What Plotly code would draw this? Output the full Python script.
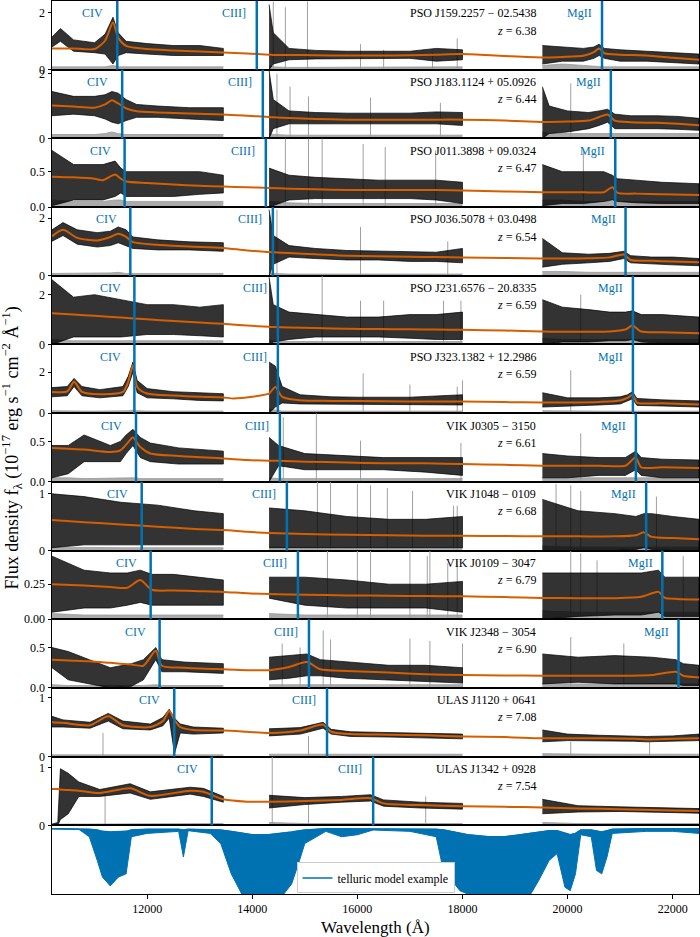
import plotly.graph_objects as go
from plotly.subplots import make_subplots

# rest wavelengths of the marked lines (Angstrom)
line_names = ["CIV", "CIII]", "MgII"]
line_rest = [1549.06, 1908.73, 2798.75]

names = ["PSO J159.2257 − 02.5438", "PSO J183.1124 + 05.0926", "PSO J011.3898 + 09.0324",
         "PSO J036.5078 + 03.0498", "PSO J231.6576 − 20.8335", "PSO J323.1382 + 12.2986",
         "VIK J0305 − 3150", "VIK J1048 − 0109", "VIK J0109 − 3047",
         "VIK J2348 − 3054", "ULAS J1120 + 0641", "ULAS J1342 + 0928"]
redshifts = [6.38, 6.44, 6.47, 6.54, 6.59, 6.59, 6.61, 6.68, 6.79, 6.90, 7.08, 7.54]
ymax = [2.42, 2.125, 0.97, 2.39, 2.76, 3.36, 0.85, 1.21, 0.49, 0.85, 1.16, 1.19]
yticks = [[0, 2], [0, 2], [0.0, 0.5], [0, 2], [0, 2], [0, 2], [0.0, 0.5], [0, 1],
          [0.0, 0.25], [0.0, 0.5], [0, 1], [0, 1]]
ytick_text = [["0", "2"], ["0", "2"], ["0.0", "0.5"], ["0", "2"], ["0", "2"], ["0", "2"],
              ["0.0", "0.5"], ["0", "1"], ["0.00", "0.25"], ["0.0", "0.5"], ["0", "1"], ["0", "1"]]
xticks = [12000, 14000, 16000, 18000, 20000, 22000]
xtick_text = ["12000", "14000", "16000", "18000", "20000", "22000"]

N = None
# wavelength nodes, model fit, upper / lower edge of the noisy spectrum, error level
wl_1 = [10190, 10350, 10600, 11000, 11200, 11350, 11450, 11600, 12000, 12500, 13000, 13450, 13900,
        14320, 14400, 14700, 15200, 15800, 16400, 17000, 17500, 18000, 18800,
        19520, 19900, 20300, 20500, 20600, 20700, 21000, 21500, 22000, 22500]
fit_1 = [0.75, 0.75, 0.75, 0.73, 1.02, 1.66, 1.13, 0.84, 0.73, 0.68, 0.64, 0.61, 0.57,
         0.53, 0.52, 0.52, 0.51, 0.50, 0.50, 0.51, 0.53, 0.55, 0.48,
         0.43, 0.45, 0.49, 0.62, 0.75, 0.58, 0.53, 0.50, 0.42, 0.35]
hi_1 = [1.15, 1.45, 1.05, 0.95, 1.25, 1.85, 1.3, 1.0, 0.92, 0.85, 0.85, 0.75, N,
        2.3, 1.3, 0.75, 0.68, 0.65, 0.65, 0.65, 0.75, 0.7, N,
        0.85, 0.8, 0.75, 0.8, 0.9, 0.75, 0.7, 0.65, 0.6, 0.55]
lo_1 = [0.8, 1.0, 0.65, 0.6, 0.55, 0.2, 0.5, 0.6, 0.55, 0.5, 0.5, 0.5, N,
        0.0, 0.2, 0.35, 0.38, 0.4, 0.4, 0.4, 0.3, 0.35, N,
        0.2, 0.3, 0.3, 0.4, 0.5, 0.4, 0.3, 0.3, 0.25, 0.2]
err_1 = [0.1, 0.1, 0.1, 0.1, 0.1, 0.15, 0.1, 0.1, 0.1, 0.1, 0.1, 0.1, N,
         0.15, 0.1, 0.08, 0.08, 0.08, 0.08, 0.08, 0.1, 0.1, N,
         0.15, 0.2, 0.15, 0.12, 0.12, 0.1, 0.1, 0.1, 0.1, 0.1]

wl_2 = [10190, 10600, 11000, 11200, 11330, 11450, 11600, 11800, 12200, 12800, 13450, 13900,
        14320, 14400, 14700, 15200, 15800, 16400, 17000, 17500, 18000, 18800,
        19520, 19650, 20000, 20400, 20600, 20760, 20900, 21200, 21700, 22100, 22500]
fit_2 = [1.02, 0.99, 0.95, 1.05, 1.18, 1.08, 0.93, 0.84, 0.80, 0.77, 0.74, 0.70,
         0.66, 0.65, 0.63, 0.60, 0.58, 0.58, 0.58, 0.58, 0.58, 0.55,
         0.51, 0.51, 0.52, 0.55, 0.66, 0.74, 0.55, 0.50, 0.48, 0.45, 0.41]
hi_2 = [1.45, 1.3, 1.3, 1.35, 1.45, 1.4, 1.2, 1.05, 1.0, 0.95, 0.95, N,
        2.1, 1.2, 0.85, 0.8, 0.78, 0.78, 0.78, 0.82, 0.8, N,
        1.6, 1.0, 0.85, 0.8, 0.85, 0.9, 0.75, 0.7, 0.7, 0.68, 0.62]
lo_2 = [0.7, 0.75, 0.7, 0.6, 0.5, 0.45, 0.55, 0.65, 0.65, 0.6, 0.55, N,
        0.0, 0.3, 0.45, 0.45, 0.45, 0.45, 0.45, 0.45, 0.4, N,
        0.0, 0.15, 0.2, 0.3, 0.4, 0.5, 0.3, 0.3, 0.3, 0.28, 0.25]
err_2 = [0.12, 0.12, 0.12, 0.15, 0.2, 0.15, 0.12, 0.12, 0.12, 0.12, 0.12, N,
         0.15, 0.12, 0.1, 0.1, 0.1, 0.1, 0.1, 0.1, 0.1, N,
         0.2, 0.15, 0.15, 0.15, 0.15, 0.15, 0.15, 0.15, 0.15, 0.15, 0.15]

wl_3 = [10190, 10600, 11000, 11160, 11390, 11500, 11600, 12000, 12500, 13000, 13450, 13900,
        14320, 14700, 15200, 15800, 16400, 17000, 17500, 18000, 18800,
        19520, 19900, 20300, 20690, 20850, 20950, 21300, 21800, 22500]
fit_3 = [0.43, 0.42, 0.40, 0.38, 0.46, 0.40, 0.36, 0.34, 0.32, 0.30, 0.29, 0.28,
         0.27, 0.26, 0.25, 0.24, 0.24, 0.24, 0.24, 0.235, 0.22,
         0.21, 0.21, 0.21, 0.21, 0.28, 0.20, 0.19, 0.18, 0.17]
hi_3 = [0.8, 0.6, 0.6, 0.6, 0.65, 0.55, 0.5, 0.5, 0.5, 0.5, 0.45, N,
        0.55, 0.45, 0.42, 0.4, 0.38, 0.38, 0.38, 0.35, N,
        0.6, 0.5, 0.5, 0.5, 0.45, 0.4, 0.38, 0.35, 0.33]
lo_3 = [0.02, 0.1, 0.1, 0.1, 0.15, 0.2, 0.15, 0.15, 0.15, 0.18, 0.2, N,
        0.0, 0.1, 0.12, 0.12, 0.12, 0.12, 0.1, 0.05, N,
        0.02, 0.05, 0.05, 0.08, 0.1, 0.08, 0.06, 0.05, 0.05]
err_3 = [0.1, 0.08, 0.08, 0.08, 0.1, 0.1, 0.08, 0.08, 0.08, 0.08, 0.08, N,
         0.08, 0.06, 0.05, 0.05, 0.05, 0.05, 0.05, 0.05, N,
         0.1, 0.1, 0.08, 0.08, 0.08, 0.08, 0.08, 0.08, 0.08]

wl_4 = [10190, 10400, 10670, 11050, 11300, 11450, 11600, 11730, 12200, 12800, 13450, 13900,
        14320, 14400, 14700, 15200, 15800, 16400, 17000, 17500, 18000, 18800,
        19520, 19900, 20400, 20800, 21070, 21200, 21600, 22000, 22500]
fit_4 = [1.37, 1.60, 1.32, 1.23, 1.35, 1.46, 1.35, 1.17, 1.08, 1.02, 0.97, 0.88,
         0.83, 0.82, 0.79, 0.75, 0.70, 0.68, 0.66, 0.65, 0.64, 0.62,
         0.60, 0.60, 0.61, 0.64, 0.74, 0.55, 0.52, 0.50, 0.47]
hi_4 = [1.6, 1.85, 1.6, 1.5, 1.55, 1.7, 1.6, 1.35, 1.25, 1.18, 1.15, N,
        2.3, 1.4, 1.05, 0.95, 0.88, 0.85, 0.82, 0.82, 0.95, N,
        1.3, 0.8, 0.75, 0.78, 0.85, 0.7, 0.65, 0.65, 0.6]
lo_4 = [1.2, 1.4, 1.1, 1.0, 1.05, 1.15, 1.05, 0.95, 0.9, 0.9, 0.85, N,
        0.0, 0.4, 0.65, 0.6, 0.55, 0.55, 0.5, 0.5, 0.45, N,
        0.3, 0.4, 0.45, 0.5, 0.6, 0.45, 0.42, 0.38, 0.35]
err_4 = [0.08, 0.08, 0.08, 0.08, 0.1, 0.12, 0.08, 0.08, 0.08, 0.08, 0.08, N,
         0.1, 0.08, 0.06, 0.06, 0.06, 0.06, 0.06, 0.06, 0.06, N,
         0.15, 0.15, 0.12, 0.12, 0.12, 0.12, 0.12, 0.12, 0.12]

wl_5 = [10190, 10600, 11000, 11500, 12000, 12500, 13000, 13450, 13900,
        14320, 14400, 14700, 15200, 15800, 16400, 17000, 17500, 18000, 18800,
        19520, 19900, 20400, 20800, 21100, 21235, 21400, 21800, 22500]
fit_5 = [1.25, 1.20, 1.15, 1.08, 1.01, 0.94, 0.88, 0.83, 0.76,
         0.71, 0.70, 0.68, 0.66, 0.63, 0.62, 0.61, 0.60, 0.59, 0.56,
         0.52, 0.51, 0.51, 0.52, 0.60, 0.76, 0.52, 0.49, 0.45]
hi_5 = [2.6, 1.9, 2.0, 1.8, 1.6, 1.6, 1.5, 1.6, N,
        2.7, 1.6, 1.3, 1.2, 1.1, 1.1, 1.2, 1.2, 1.3, N,
        1.8, 1.5, 1.4, 1.3, 1.3, 1.35, 1.2, 1.2, 1.1]
lo_5 = [0.0, 0.3, 0.3, 0.3, 0.4, 0.4, 0.35, 0.3, N,
        0.0, 0.1, 0.2, 0.3, 0.3, 0.3, 0.25, 0.2, 0.2, N,
        0.0, 0.1, 0.1, 0.15, 0.15, 0.2, 0.1, 0.05, 0.05]
err_5 = [0.2, 0.15, 0.15, 0.15, 0.15, 0.15, 0.15, 0.15, N,
         0.2, 0.15, 0.12, 0.12, 0.12, 0.12, 0.12, 0.12, 0.12, N,
         0.25, 0.2, 0.2, 0.2, 0.2, 0.2, 0.2, 0.2, 0.2]

wl_6 = [10190, 10480, 10610, 10760, 11100, 11540, 11640, 11730, 11810, 12000, 12500, 13000, 13450,
        13640, 14000, 14290,
        14320, 14440, 14570, 14910, 15500, 16000, 17000, 18000, 18800,
        19520, 20000, 20600, 21000, 21140, 21235, 21320, 21800, 22500]
fit_6 = [1.04, 1.06, 1.53, 1.04, 0.93, 1.04, 1.53, 2.34, 1.28, 0.96, 0.86, 0.80, 0.77,
         0.72, 0.80, 0.93,
         0.95, 1.28, 0.80, 0.63, 0.60, 0.59, 0.57, 0.57, 0.54,
         0.52, 0.52, 0.55, 0.62, 0.75, 0.90, 0.52, 0.48, 0.42]
hi_6 = [1.25, 1.3, 1.7, 1.3, 1.15, 1.3, 1.8, 2.5, 1.6, 1.2, 1.05, 1.0, 0.95,
        N, N, N,
        2.5, 2.3, 1.3, 0.9, 0.8, 0.78, 0.78, 0.9, N,
        1.0, 0.75, 0.75, 0.8, 0.9, 1.05, 0.72, 0.65, 0.6]
lo_6 = [0.8, 0.85, 1.3, 0.85, 0.75, 0.85, 1.3, 2.0, 1.0, 0.75, 0.7, 0.62, 0.6,
        N, N, N,
        0.0, 0.3, 0.5, 0.45, 0.45, 0.45, 0.42, 0.4, N,
        0.3, 0.35, 0.4, 0.45, 0.6, 0.7, 0.38, 0.35, 0.3]
err_6 = [0.12, 0.1, 0.1, 0.1, 0.1, 0.1, 0.12, 0.15, 0.12, 0.1, 0.1, 0.1, 0.1,
         N, N, N,
         0.2, 0.15, 0.1, 0.1, 0.1, 0.1, 0.1, 0.1, N,
         0.12, 0.1, 0.1, 0.1, 0.1, 0.1, 0.1, 0.1, 0.1]

wl_7 = [10190, 10500, 10800, 11300, 11490, 11600, 11730, 11870, 12060, 12600, 13450, 13900,
        14320, 14500, 15000, 15800, 16500, 17300, 18000, 18800,
        19520, 20000, 20600, 21100, 21295, 21400, 21800, 22500]
fit_7 = [0.42, 0.41, 0.40, 0.37, 0.39, 0.46, 0.55, 0.43, 0.35, 0.32, 0.29, 0.27,
         0.26, 0.26, 0.25, 0.24, 0.23, 0.23, 0.22, 0.21,
         0.20, 0.20, 0.20, 0.20, 0.30, 0.18, 0.18, 0.17]
hi_7 = [0.45, 0.45, 0.58, 0.45, 0.5, 0.58, 0.65, 0.55, 0.48, 0.42, 0.38, N,
        0.55, 0.45, 0.35, 0.32, 0.3, 0.3, 0.3, N,
        0.35, 0.32, 0.3, 0.3, 0.38, 0.3, 0.28, 0.27]
lo_7 = [0.05, 0.1, 0.25, 0.25, 0.25, 0.35, 0.45, 0.3, 0.25, 0.22, 0.22, N,
        0.0, 0.2, 0.15, 0.15, 0.15, 0.12, 0.08, N,
        0.05, 0.05, 0.08, 0.08, 0.15, 0.08, 0.05, 0.05]
err_7 = [0.05, 0.05, 0.04, 0.05, 0.05, 0.05, 0.05, 0.04, 0.04, 0.04, 0.04, N,
         0.05, 0.04, 0.04, 0.04, 0.04, 0.04, 0.04, N,
         0.05, 0.05, 0.05, 0.05, 0.05, 0.05, 0.05, 0.05]

wl_8 = [10190, 10800, 11500, 12200, 12900, 13450, 13900,
        14320, 15000, 15800, 16600, 17300, 18000, 18800,
        19520, 20200, 20900, 21300, 21450, 21600, 22000, 22500]
fit_8 = [0.54, 0.50, 0.46, 0.42, 0.38, 0.36, 0.33,
         0.31, 0.29, 0.28, 0.27, 0.26, 0.26, 0.255,
         0.25, 0.25, 0.25, 0.27, 0.32, 0.24, 0.22, 0.20]
hi_8 = [1.0, 0.95, 0.85, 0.8, 0.7, 0.65, N,
        0.75, 0.7, 0.6, 0.55, 0.55, 0.6, N,
        0.9, 0.7, 0.65, 0.6, 0.65, 0.65, 0.6, 0.55]
lo_8 = [0.05, 0.1, 0.1, 0.1, 0.1, 0.1, N,
        0.05, 0.05, 0.05, 0.05, 0.05, 0.05, N,
        0.0, 0.0, 0.0, 0.02, 0.05, 0.02, 0.0, 0.0]
err_8 = [0.06, 0.05, 0.05, 0.05, 0.05, 0.05, N,
         0.06, 0.05, 0.05, 0.05, 0.05, 0.05, N,
         0.08, 0.06, 0.06, 0.06, 0.06, 0.06, 0.06, 0.06]

wl_9 = [10190, 10800, 11300, 11620, 11870, 12090, 12500, 13000, 13450, 13900,
        14320, 15000, 15800, 16600, 17300, 18000, 18800,
        19520, 20200, 20900, 21400, 21730, 21850, 22100, 22500]
fit_9 = [0.25, 0.24, 0.23, 0.224, 0.28, 0.21, 0.205, 0.20, 0.195, 0.185,
         0.18, 0.175, 0.17, 0.167, 0.165, 0.164, 0.158,
         0.152, 0.15, 0.15, 0.16, 0.195, 0.152, 0.145, 0.14]
hi_9 = [0.45, 0.35, 0.33, 0.33, 0.35, 0.32, 0.32, 0.3, 0.28, N,
        0.3, 0.3, 0.28, 0.25, 0.25, 0.27, N,
        0.33, 0.33, 0.33, 0.33, 0.35, 0.3, 0.3, 0.3]
lo_9 = [0.05, 0.08, 0.08, 0.1, 0.12, 0.1, 0.1, 0.1, 0.1, N,
        0.15, 0.1, 0.08, 0.08, 0.08, 0.05, N,
        0.0, 0.02, 0.03, 0.03, 0.05, 0.02, 0.02, 0.02]
err_9 = [0.04, 0.03, 0.03, 0.03, 0.03, 0.03, 0.03, 0.03, 0.03, N,
         0.04, 0.03, 0.03, 0.03, 0.03, 0.03, N,
         0.06, 0.05, 0.05, 0.05, 0.05, 0.05, 0.05, 0.05]

wl_10 = [10190, 10500, 10900, 11300, 11700, 11930, 12165, 12280, 12700, 13450, 13900,
         14320, 14700, 15040, 15295, 15800, 16600, 17300, 18000, 18800,
         19520, 20200, 20900, 21600, 22060, 22200, 22500]
fit_10 = [0.35, 0.34, 0.33, 0.31, 0.29, 0.275, 0.46, 0.275, 0.25, 0.23, 0.22,
          0.22, 0.26, 0.32, 0.23, 0.21, 0.19, 0.17, 0.16, 0.155,
          0.15, 0.15, 0.15, 0.16, 0.20, 0.15, 0.13]
hi_10 = [0.5, 0.45, 0.35, 0.25, 0.3, 0.35, 0.5, 0.35, 0.32, 0.3, N,
         0.38, 0.4, 0.42, 0.35, 0.32, 0.28, 0.28, 0.25, N,
         0.42, 0.38, 0.4, 0.38, 0.35, 0.3, 0.28]
lo_10 = [0.25, 0.1, 0.05, 0.0, 0.02, 0.1, 0.35, 0.2, 0.2, 0.18, N,
         0.1, 0.12, 0.15, 0.15, 0.12, 0.1, 0.08, 0.06, N,
         0.05, 0.07, 0.05, 0.05, 0.05, 0.03, 0.03]
err_10 = [0.04, 0.03, 0.03, 0.03, 0.03, 0.03, 0.04, 0.03, 0.03, 0.03, N,
          0.04, 0.04, 0.04, 0.04, 0.04, 0.04, 0.04, 0.04, N,
          0.05, 0.05, 0.05, 0.05, 0.05, 0.05, 0.05]

wl_11 = [10190, 10400, 10914, 11260, 11540, 12060, 12300, 12420, 12520, 12630, 12880, 13450, 13900,
         14320, 14914, 15350, 15500, 15870, 16600, 17300, 18000, 18800,
         19520, 20000, 20600, 21257, 21500, 22000, 22500]
fit_11 = [0.58, 0.57, 0.53, 0.68, 0.53, 0.50, 0.60, 0.77, 0.62, 0.50, 0.45, 0.44, 0.42,
          0.40, 0.44, 0.54, 0.42, 0.38, 0.37, 0.36, 0.34, 0.33,
          0.31, 0.31, 0.31, 0.30, 0.29, 0.30, 0.31]
hi_11 = [0.68, 0.62, 0.58, 0.73, 0.6, 0.55, 0.66, 0.8, 0.65, 0.55, 0.5, 0.48, N,
         0.47, 0.49, 0.58, 0.46, 0.42, 0.41, 0.4, 0.38, N,
         0.45, 0.38, 0.36, 0.35, 0.34, 0.35, 0.38]
lo_11 = [0.5, 0.5, 0.48, 0.6, 0.47, 0.45, 0.52, 0.65, 0.05, 0.4, 0.38, 0.4, N,
         0.35, 0.38, 0.48, 0.38, 0.34, 0.33, 0.32, 0.3, N,
         0.25, 0.27, 0.27, 0.26, 0.25, 0.26, 0.27]
err_11 = [0.03, 0.03, 0.03, 0.03, 0.03, 0.03, 0.03, 0.03, 0.03, 0.03, 0.03, 0.03, N,
          0.04, 0.04, 0.04, 0.04, 0.04, 0.04, 0.04, 0.04, N,
          0.05, 0.04, 0.04, 0.04, 0.04, 0.04, 0.04]

wl_12 = [10190, 10300, 10350, 10500, 10700, 11100, 11676, 12060, 12820, 13070, 13450, 13900,
         14320, 15000, 15700, 16250, 16500, 17200, 18000, 18800,
         19520, 20200, 21000, 21800, 22500]
fit_12 = [0.63, 0.63, 0.62, 0.61, 0.60, 0.56, 0.64, 0.51, 0.60, 0.58, 0.45, 0.41,
          0.41, 0.42, 0.44, 0.47, 0.38, 0.35, 0.33, 0.32,
          0.31, 0.29, 0.28, 0.26, 0.25]
hi_12 = [0.02, 0.05, 0.98, 0.9, 0.75, 0.62, 0.72, 0.58, 0.66, 0.64, 0.5, N,
         0.52, 0.48, 0.5, 0.53, 0.44, 0.4, 0.38, N,
         0.45, 0.34, 0.32, 0.3, 0.29]
lo_12 = [0.0, 0.0, 0.1, 0.2, 0.5, 0.5, 0.56, 0.45, 0.54, 0.5, 0.4, N,
         0.3, 0.36, 0.4, 0.42, 0.33, 0.3, 0.28, N,
         0.2, 0.23, 0.24, 0.22, 0.21]
err_12 = [0.02, 0.02, 0.03, 0.03, 0.03, 0.03, 0.03, 0.03, 0.03, 0.03, 0.03, N,
          0.05, 0.03, 0.03, 0.03, 0.03, 0.03, 0.03, N,
          0.05, 0.03, 0.03, 0.03, 0.03]

# strong sky-line residuals in the error spectra: wavelength and height
sky_wl_1 = [14400, 14630, 15050, 16060, 16500, 17430, 17900]
sky_h_1 = [2.4, 2.2, 2.4, 0.9, 0.7, 0.6, 1.1]
sky_wl_2 = [14470, 14720, 15070, 16250, 17580, 20060]
sky_h_2 = [2.0, 1.6, 1.3, 1.26, 1.1, 1.7]
sky_wl_3 = [14630, 15070, 15330, 16110, 16530, 17490, 20300]
sky_h_3 = [0.97, 0.97, 0.97, 0.89, 0.85, 0.8, 0.8]
sky_wl_4 = [14470, 16060, 17720]
sky_h_4 = [2.3, 1.7, 1.2]
sky_wl_5 = [15330, 16060, 16500, 17640, 17970, 20250]
sky_h_5 = [2.76, 1.76, 1.76, 1.76, 1.76, 2.0]
sky_wl_6 = [16110, 17000, 17900, 18000, 20060]
sky_h_6 = [1.95, 1.4, 1.3, 1.6, 2.1]
sky_wl_7 = [14590, 15220, 16060, 17970, 20250]
sky_h_7 = [0.8, 0.85, 0.51, 0.48, 0.6]
sky_wl_8 = [14670, 15240, 15490, 16000, 16250, 16570, 17050, 17830, 17900, 19780, 20060, 20250, 21690]
sky_h_8 = [1.21, 1.21, 1.21, 1.17, 1.15, 1.1, 1.05, 0.79, 0.79, 1.17, 1.15, 1.05, 0.95]
sky_wl_9 = [15430, 16000, 16250, 17000, 17330, 17380, 17720, 17900, 20060, 20250, 20560, 22200]
sky_h_9 = [0.49, 0.49, 0.49, 0.49, 0.45, 0.49, 0.4, 0.42, 0.49, 0.47, 0.42, 0.45]
sky_wl_10 = [14570, 14910, 15350, 15490, 17000, 17380, 18000, 20060, 21070]
sky_h_10 = [0.55, 0.5, 0.71, 0.6, 0.61, 0.58, 0.55, 0.63, 0.55]
sky_wl_11 = [11160, 15070, 20060, 21560]
sky_h_11 = [0.4, 0.35, 0.25, 0.25]
sky_wl_12 = [11200, 14380, 15070, 17300]
sky_h_12 = [0.6, 1.19, 0.45, 0.5]

# telluric transmission: upper and lower edge of the dense absorption lines
tell_wl = [10190, 10700, 10900, 11050, 11150, 11300, 11450, 11600, 11700, 12000, 12600, 12690, 12780,
           13200, 13400, 13600, 13800, 14000, 14300, 14600, 14750, 14900, 15000, 15400, 15700, 16000,
           16300, 17000, 17500, 17650, 17800, 17950, 18100, 18500, 18800, 19000, 19300, 19450, 19650,
           19800, 19950, 20050, 20150, 20250, 20450, 20550, 20650, 20750, 20850, 21500, 22000, 22500]
tell_hi = [0.97, 0.97, 0.96, 0.95, 0.93, 0.92, 0.92, 0.93, 0.95, 0.96, 0.96, 0.95, 0.96,
           0.96, 0.95, 0.93, 0.9, 0.88, 0.88, 0.9, 0.92, 0.94, 0.95, 0.97, 0.97, 0.97,
           0.97, 0.97, 0.96, 0.95, 0.93, 0.9, 0.88, 0.85, 0.85, 0.87, 0.9, 0.92, 0.94,
           0.94, 0.9, 0.88, 0.9, 0.95, 0.95, 0.93, 0.92, 0.94, 0.96, 0.97, 0.97, 0.97]
tell_lo = [0.97, 0.96, 0.85, 0.5, 0.25, 0.12, 0.25, 0.3, 0.85, 0.9, 0.93, 0.55, 0.94,
           0.9, 0.75, 0.3, 0.0, 0.0, 0.0, 0.0, 0.15, 0.5, 0.75, 0.93, 0.85, 0.88,
           0.95, 0.93, 0.85, 0.3, 0.2, 0.05, 0.0, 0.0, 0.0, 0.0, 0.0, 0.2, 0.5,
           0.6, 0.1, 0.05, 0.3, 0.88, 0.85, 0.35, 0.3, 0.55, 0.9, 0.93, 0.93, 0.9]

wl_all = [wl_1, wl_2, wl_3, wl_4, wl_5, wl_6, wl_7, wl_8, wl_9, wl_10, wl_11, wl_12]
fit_all = [fit_1, fit_2, fit_3, fit_4, fit_5, fit_6, fit_7, fit_8, fit_9, fit_10, fit_11, fit_12]
hi_all = [hi_1, hi_2, hi_3, hi_4, hi_5, hi_6, hi_7, hi_8, hi_9, hi_10, hi_11, hi_12]
lo_all = [lo_1, lo_2, lo_3, lo_4, lo_5, lo_6, lo_7, lo_8, lo_9, lo_10, lo_11, lo_12]
err_all = [err_1, err_2, err_3, err_4, err_5, err_6, err_7, err_8, err_9, err_10, err_11, err_12]
sky_wl_all = [sky_wl_1, sky_wl_2, sky_wl_3, sky_wl_4, sky_wl_5, sky_wl_6,
              sky_wl_7, sky_wl_8, sky_wl_9, sky_wl_10, sky_wl_11, sky_wl_12]
sky_h_all = [sky_h_1, sky_h_2, sky_h_3, sky_h_4, sky_h_5, sky_h_6,
             sky_h_7, sky_h_8, sky_h_9, sky_h_10, sky_h_11, sky_h_12]

BLUE = "#0072B2"
ORANGE = "#D55E00"
FONT = "Liberation Serif"
XMIN, XMAX = 10190, 22500

fig = make_subplots(rows=13, cols=1, shared_xaxes=True, vertical_spacing=0)


def bands(wl, hi, lo, err):
    # split the nodes into the contiguous observed wavelength ranges
    out, cur = [], []
    for w, h, l, e in zip(wl, hi, lo, err):
        if h is None:
            if cur:
                out.append(cur)
            cur = []
        else:
            cur.append((w, h, l, e))
    if cur:
        out.append(cur)
    return out


for i in range(12):
    row = i + 1
    # grey sky-line spikes
    sx, sy = [], []
    for w, h in zip(sky_wl_all[i], sky_h_all[i]):
        sx += [w, w, None]
        sy += [0, h, None]
    fig.add_trace(go.Scatter(x=sx, y=sy, mode="lines", line=dict(color="#a0a0a0", width=1),
                             showlegend=False, hoverinfo="skip"), row=row, col=1)
    for b in bands(wl_all[i], hi_all[i], lo_all[i], err_all[i]):
        bw = [p[0] for p in b]
        fig.add_trace(go.Scatter(x=bw, y=[p[3] for p in b], mode="lines", fill="tozeroy",
                                 fillcolor="rgba(150,150,150,0.8)", line=dict(color="#999999", width=0.8),
                                 showlegend=False, hoverinfo="skip"), row=row, col=1)
        fig.add_trace(go.Scatter(x=bw + bw[::-1], y=[p[1] for p in b] + [p[2] for p in b][::-1],
                                 mode="lines", fill="toself", fillcolor="rgba(0,0,0,0.8)",
                                 line=dict(color="black", width=0.7), showlegend=False,
                                 hoverinfo="skip"), row=row, col=1)
    fig.add_trace(go.Scatter(x=wl_all[i], y=fit_all[i], mode="lines",
                             line=dict(color=ORANGE, width=2, shape="spline", smoothing=0.7),
                             showlegend=False), row=row, col=1)

    ax = "" if row == 1 else str(row)
    for lname, lrest in zip(line_names, line_rest):
        lam = lrest * (1 + redshifts[i])
        if lam > XMAX:
            continue
        fig.add_shape(type="line", x0=lam, x1=lam, y0=0, y1=1, xref="x" + ax,
                      yref="y" + ax + " domain", line=dict(color=BLUE, width=2.5))
        fig.add_annotation(x=lam - 700, y=0.82, xref="x" + ax, yref="y" + ax + " domain",
                           text=lname, showarrow=False, xanchor="left", yanchor="middle",
                           font=dict(family=FONT, size=12, color=BLUE))
    fig.add_annotation(x=19430, y=0.82, xref="x" + ax, yref="y" + ax + " domain",
                       text=names[i], showarrow=False, xanchor="right", yanchor="middle",
                       font=dict(family=FONT, size=12, color="black"))
    fig.add_annotation(x=19430, y=0.57, xref="x" + ax, yref="y" + ax + " domain",
                       text="<i>z</i> = %.2f" % redshifts[i], showarrow=False, xanchor="right",
                       yanchor="middle", font=dict(family=FONT, size=12, color="black"))
    fig.update_yaxes(range=[0, ymax[i]], tickvals=yticks[i], ticktext=ytick_text[i], row=row, col=1)

# telluric panel
fig.add_trace(go.Scatter(x=tell_wl + tell_wl[::-1], y=tell_hi + tell_lo[::-1], mode="lines",
                         fill="toself", fillcolor=BLUE, line=dict(color=BLUE, width=1),
                         showlegend=False, hoverinfo="skip"), row=13, col=1)
fig.add_trace(go.Scatter(x=tell_wl, y=tell_hi, mode="lines", line=dict(color=BLUE, width=1.5),
                         name="telluric model example"), row=13, col=1)

fig.update_yaxes(showline=True, mirror=True, linecolor="black", linewidth=1, showgrid=False,
                 zeroline=False, ticks="outside", ticklen=3.5, tickcolor="black", automargin=False,
                 tickfont=dict(family=FONT, size=12, color="black"))
fig.update_yaxes(range=[0, 1.02], showticklabels=False, ticks="", row=13, col=1)
fig.update_xaxes(range=[XMIN, XMAX], showline=True, mirror=True, linecolor="black", linewidth=1,
                 showgrid=False, zeroline=False, tickvals=xticks, ticktext=xtick_text, automargin=False,
                 tickfont=dict(family=FONT, size=12, color="black"))
fig.update_xaxes(ticks="outside", ticklen=3.5, tickcolor="black", row=13, col=1)

fig.add_annotation(x=0.5, y=-0.038, xref="paper", yref="paper", showarrow=False,
                   text="Wavelength (Å)", xanchor="center", yanchor="middle",
                   font=dict(family=FONT, size=17, color="black"))
fig.add_annotation(x=-0.062, y=0.5, xref="paper", yref="paper", textangle=-90, showarrow=False,
                   xanchor="center", yanchor="middle",
                   text="Flux density f<sub>λ</sub> (10<sup>−17</sup> erg s<sup>−1</sup> cm<sup>−2</sup> Å<sup>−1</sup>)",
                   font=dict(family=FONT, size=18, color="black"))

fig.update_layout(width=700, height=937, margin=dict(l=52, r=1, t=1, b=43, autoexpand=False),
                  plot_bgcolor="white", paper_bgcolor="white",
                  legend=dict(x=0.5, y=0.018, xanchor="center", yanchor="middle",
                              bgcolor="white", bordercolor="#cccccc", borderwidth=1,
                              font=dict(family=FONT, size=12, color="black")))

# the page body has a default margin; remove it so the figure sits at the window corner
fig.write_html("out.html", config={"displayModeBar": False},
               post_script="document.body.style.margin='0';")
